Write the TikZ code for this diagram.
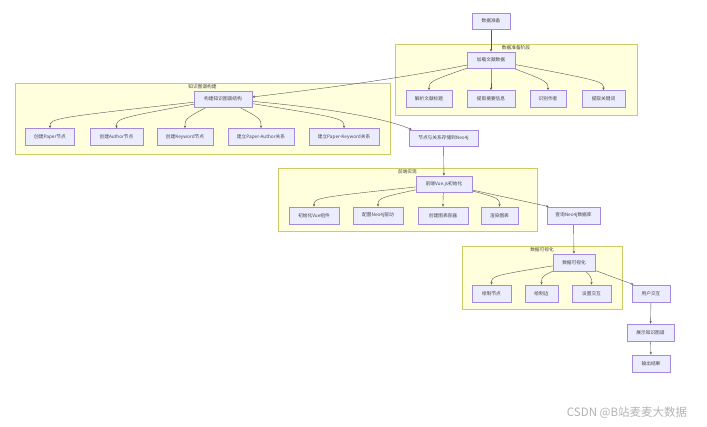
\documentclass[tikz,border=0pt]{standalone}
\usepackage{fontspec}
\setmainfont{Noto Sans CJK SC}
\usetikzlibrary{arrows.meta}
\definecolor{nodefill}{HTML}{ECECFF}
\definecolor{nodeborder}{HTML}{A58BE0}
\definecolor{grpfill}{HTML}{FFFFDE}
\definecolor{grpborder}{HTML}{CCCC66}
\definecolor{edgec}{HTML}{555555}
\definecolor{txtc}{HTML}{444444}
\pgfdeclarelayer{grp}
\pgfdeclarelayer{edg}
\pgfsetlayers{grp,edg,main}
\begin{document}
\begin{tikzpicture}[x=1pt,y=-1pt,
  box/.style={draw=nodeborder, fill=nodefill, line width=0.8pt, minimum height=17pt, inner sep=0pt, text=txtc, font=\fontsize{4.7}{5.5}\selectfont},
  grpbox/.style={draw=grpborder, fill=grpfill, line width=0.6pt, inner sep=0pt},
  grplabel/.style={inner sep=0pt, text=txtc, font=\fontsize{4.7}{5.5}\selectfont},
  edge/.style={draw=edgec, line width=0.4pt, -{Stealth[length=2.6pt,width=2.2pt]}},
  wm/.style={inner sep=0pt, text=black!30, font=\fontsize{11.5}{13}\selectfont}]
\useasboundingbox (0,0) rectangle (707,427);
% groups
\begin{pgfonlayer}{grp}
\node[grpbox, minimum width=242pt, minimum height=71pt] (g1) at (516,79.5) {};
\node[grpbox, minimum width=375pt, minimum height=71pt] (g2) at (202.5,118.5) {};
\node[grpbox, minimum width=259pt, minimum height=63pt] (g3) at (407.5,199.5) {};
\node[grpbox, minimum width=160pt, minimum height=63pt] (g4) at (542,277.5) {};
\end{pgfonlayer}
\node[grplabel] (l1) at (516,48) {数据准备阶段};
\node[grplabel] (l2) at (202.5,87) {知识图谱构建};
\node[grplabel] (l3) at (407.5,172) {前端实现};
\node[grplabel] (l4) at (542,250) {数据可视化};
% nodes
\node[box, minimum width=38pt, minimum height=16pt] (start) at (491,21) {数据准备};
\node[box, minimum width=48pt, minimum height=16pt] (load) at (491,60) {加载文献数据};
\node[box, minimum width=46pt] (a1) at (429,99) {解析文献标题};
\node[box, minimum width=48pt] (a2) at (491,99) {提取摘要信息};
\node[box, minimum width=36pt] (a3) at (548,99) {识别作者};
\node[box, minimum width=43pt] (a4) at (603.5,99) {提取关键词};
\node[box, minimum width=58pt, minimum height=16pt] (kg) at (223,99) {构建知识图谱结构};
\node[box, minimum width=49pt] (b1) at (50,137) {创建Paper节点};
\node[box, minimum width=53pt] (b2) at (116.5,137) {创建Author节点};
\node[box, minimum width=56pt] (b3) at (185,137) {创建Keyword节点};
\node[box, minimum width=66pt] (b4) at (261,137) {建立Paper-Author关系};
\node[box, minimum width=70pt] (b5) at (344,137) {建立Paper-Keyword关系};
\node[box, minimum width=69pt, minimum height=16pt] (store) at (443.5,138) {节点与关系存储到Neo4j};
\node[box, minimum width=56pt, minimum height=16pt] (vue) at (444,184) {前端Vue.js初始化};
\node[box, minimum width=50pt] (c1) at (314,215.5) {初始化Vue组件};
\node[box, minimum width=50pt] (c2) at (378,215.5) {配置Neo4j驱动};
\node[box, minimum width=50pt] (c3) at (443,215.5) {创建图表容器};
\node[box, minimum width=37pt] (c4) at (499.5,215.5) {渲染图表};
\node[box, minimum width=53pt] (query) at (573.5,215.5) {查询Neo4j数据库};
\node[box, minimum width=42pt] (vis) at (574,262.5) {数据可视化};
\node[box, minimum width=39pt] (d1) at (491.5,293.5) {绘制节点};
\node[box, minimum width=33pt] (d2) at (541.5,293.5) {绘制边};
\node[box, minimum width=39pt] (d3) at (591.5,293.5) {设置交互};
\node[box, minimum width=38pt] (user) at (651,293.5) {用户交互};
\node[box, minimum width=47pt] (show) at (650.5,332.5) {展示知识图谱};
\node[box, minimum width=38pt] (out) at (651,363.5) {输出结果};
\node[wm] (wmark) at (627,413) {CSDN @B站麦麦大数据};
% edges
\begin{pgfonlayer}{edg}
\draw[edge] (start) -- (load);
\foreach \c in {a1,a2,a3,a4} {\draw[edge] (load.center) .. controls ([yshift=9pt]\c.north) .. (\c.north);}
\draw[edge] (load.center) .. controls (410,78) and (310,90) .. ([yshift=2pt]kg.east);
\foreach \c in {b1,b2,b3,b4,b5} {\draw[edge] (kg.center) .. controls ([yshift=10pt]\c.north) .. (\c.north);}
\draw[edge] (kg.center) .. controls (320,106) and (385,118) .. ([xshift=3pt]store.north west);
\draw[edge] (store) -- (vue);
\foreach \c in {c1,c2,c3,c4} {\draw[edge] (vue.center) .. controls ([yshift=9pt]\c.north) .. (\c.north);}
\draw[edge] (vue.center) .. controls (500,196) .. ([xshift=2pt]query.north west);
\draw[edge] (query) -- (vis);
\foreach \c in {d1,d2,d3} {\draw[edge] (vis.center) .. controls ([yshift=9pt]\c.north) .. (\c.north);}
\draw[edge] (vis.center) .. controls (610,276) .. ([xshift=2pt]user.north west);
\draw[edge] (user) -- (show);
\draw[edge] (show) -- (out);
\end{pgfonlayer}
\end{tikzpicture}
\end{document}
